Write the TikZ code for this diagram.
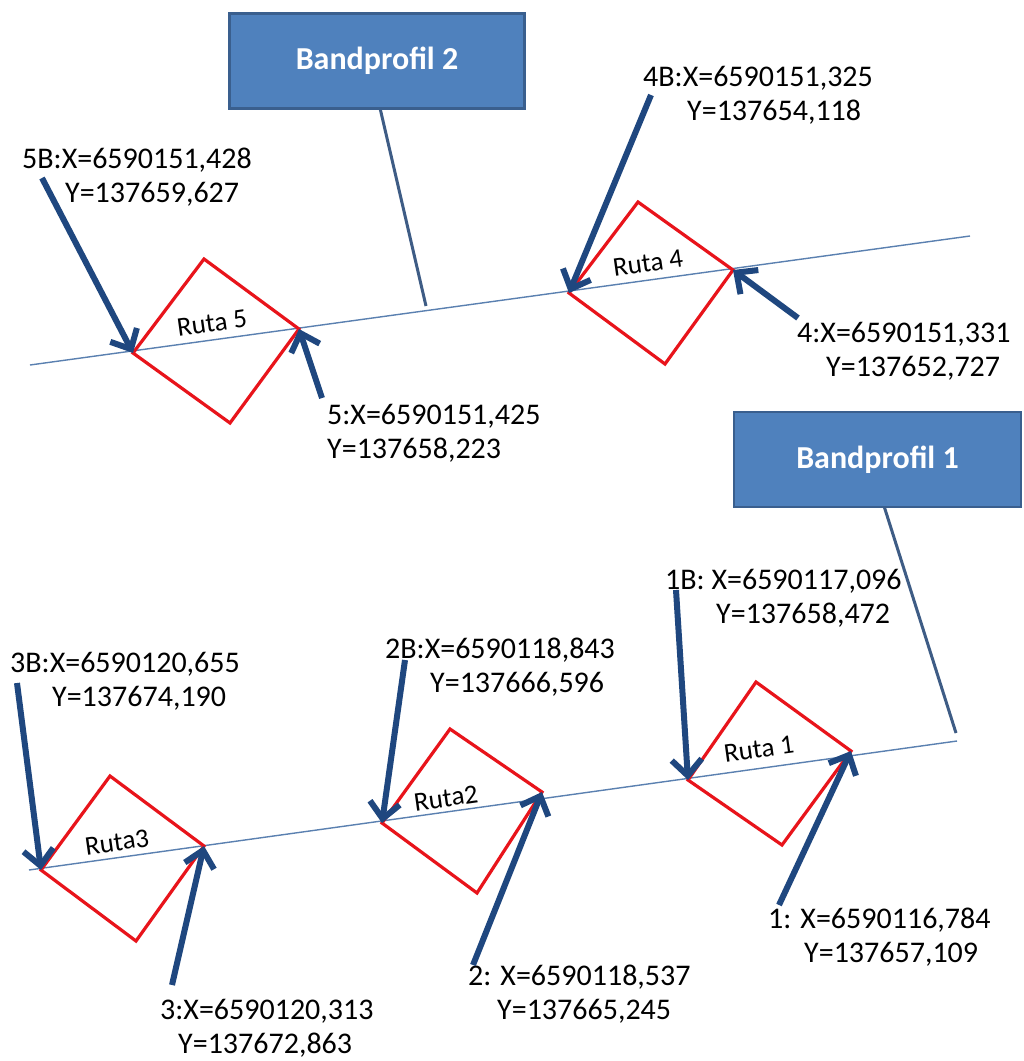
\documentclass[tikz,border=0pt]{standalone}
\usepackage{fontspec}
\setmainfont{Carlito}
\usetikzlibrary{arrows.meta}
\definecolor{boxfill}{HTML}{4F81BD}
\definecolor{boxdraw}{HTML}{3A5F8E}
\definecolor{leadercol}{HTML}{3E5C85}
\definecolor{axiscol}{HTML}{5A80B0}
\definecolor{arrowcol}{HTML}{1F477F}
\definecolor{rutacol}{HTML}{E8141B}
\begin{document}
\begin{tikzpicture}[x=1pt,y=-1pt,
  bandbox/.style={draw=boxdraw, line width=2.5pt, fill=boxfill, text=white,
    font=\fontsize{32}{36}\selectfont\bfseries, inner sep=0pt},
  leaderline/.style={draw=leadercol, line width=3pt},
  axisline/.style={draw=axiscol, line width=1.4pt},
  rutasq/.style={draw=rutacol, line width=3.2pt, line join=miter},
  rutalabel/.style={font=\fontsize{27}{30}\selectfont, rotate=8, inner sep=0pt},
  coordlabel/.style={font=\fontsize{30}{34}\selectfont, anchor=base west, align=left, inner sep=0pt},
  arr/.style={draw=arrowcol, line width=6pt, -{Straight Barb[length=16pt,width=30pt]}}
]
\fill[white] (0,0) rectangle (1024,1061);
\useasboundingbox (0,0) rectangle (1024,1061);

% main profile lines
\coordinate (u0) at (30,365);
\coordinate (u1) at (970,236);
\coordinate (l0) at (29,870);
\coordinate (l1) at (957,741);
\draw[axisline] (u0) -- (u1);
\draw[axisline] (l0) -- (l1);

% Bandprofil boxes and leaders
\coordinate (lead2) at (426,306);
\coordinate (lead1) at (956,733);
\draw[leaderline] (380,108) -- (lead2);
\draw[leaderline] (884,506) -- (lead1);
\node[bandbox, minimum width=295pt, minimum height=95pt] (bp2) at (377,61) {Bandprofil 2};
\node[bandbox, minimum width=287pt, minimum height=95pt] (bp1) at (877.5,459.5) {Bandprofil 1};

% squares (Ruta)
\coordinate (r5L) at (133,353); \coordinate (r5T) at (204,259);
\coordinate (r5R) at (299,329); \coordinate (r5B) at (230,423);
\coordinate (r4L) at (569,293); \coordinate (r4T) at (638,202);
\coordinate (r4R) at (733,270); \coordinate (r4B) at (665,364);
\coordinate (r3L) at (41,870);  \coordinate (r3T) at (110,776);
\coordinate (r3R) at (204,846); \coordinate (r3B) at (136,941);
\coordinate (r2L) at (382,823); \coordinate (r2T) at (450,729);
\coordinate (r2R) at (542,792); \coordinate (r2B) at (477,893);
\coordinate (r1L) at (688,780); \coordinate (r1T) at (756,682);
\coordinate (r1R) at (851,751); \coordinate (r1B) at (782,845);
\draw[rutasq] (r5L) -- (r5T) -- (r5R) -- (r5B) -- cycle;
\draw[rutasq] (r4L) -- (r4T) -- (r4R) -- (r4B) -- cycle;
\draw[rutasq] (r3L) -- (r3T) -- (r3R) -- (r3B) -- cycle;
\draw[rutasq] (r2L) -- (r2T) -- (r2R) -- (r2B) -- cycle;
\draw[rutasq] (r1L) -- (r1T) -- (r1R) -- (r1B) -- cycle;

\node[rutalabel] (lr5) at (212,323) {Ruta 5};
\node[rutalabel] (lr4) at (648,263) {Ruta 4};
\node[rutalabel] (lr3) at (117,842) {Ruta3};
\node[rutalabel] (lr2) at (446,798) {Ruta2};
\node[rutalabel] (lr1) at (759,749) {Ruta 1};

% coordinate labels (anchor = baseline of the second line)
\node[coordlabel] (c5B) at (22,202)  {5B:X=6590151,428\\\hspace*{43pt}Y=137659,627};
\node[coordlabel] (c4B) at (643,120) {4B:X=6590151,325\\\hspace*{44pt}Y=137654,118};
\node[coordlabel] (c4)  at (797,376) {4:X=6590151,331\\\hspace*{29pt}Y=137652,727};
\node[coordlabel] (c5)  at (327,458) {5:X=6590151,425\\Y=137658,223};
\node[coordlabel] (c1B) at (665,623) {1B: X=6590117,096\\\hspace*{51pt}Y=137658,472};
\node[coordlabel] (c3B) at (10,706)  {3B:X=6590120,655\\\hspace*{42pt}Y=137674,190};
\node[coordlabel] (c2B) at (385,692) {2B:X=6590118,843\\\hspace*{45pt}Y=137666,596};
\node[coordlabel] (c1)  at (768,962) {1: X=6590116,784\\\hspace*{36pt}Y=137657,109};
\node[coordlabel] (c2)  at (468,1019) {2: X=6590118,537\\\hspace*{29pt}Y=137665,245};
\node[coordlabel] (c3)  at (160,1053) {3:X=6590120,313\\\hspace*{18pt}Y=137672,863};

% arrows
\coordinate (t5B) at (42,178);
\coordinate (t5)  at (322,398);
\coordinate (t4B) at (651,95);
\coordinate (t4)  at (798,318);
\coordinate (t3B) at (17,683);
\coordinate (t3)  at (172,985);
\coordinate (t2B) at (405,660);
\coordinate (t2)  at (473,965);
\coordinate (t1B) at (676,590);
\coordinate (t1)  at (779,905);
\draw[arr] (t5B) -- (r5L);
\draw[arr] (t5)  -- (r5R);
\draw[arr] (t4B) -- (r4L);
\draw[arr] (t4)  -- (r4R);
\draw[arr] (t3B) -- (r3L);
\draw[arr] (t3)  -- (r3R);
\draw[arr] (t2B) -- (r2L);
\draw[arr] (t2)  -- (r2R);
\draw[arr] (t1B) -- (r1L);
\draw[arr] (t1)  -- (r1R);
\end{tikzpicture}
\end{document}
